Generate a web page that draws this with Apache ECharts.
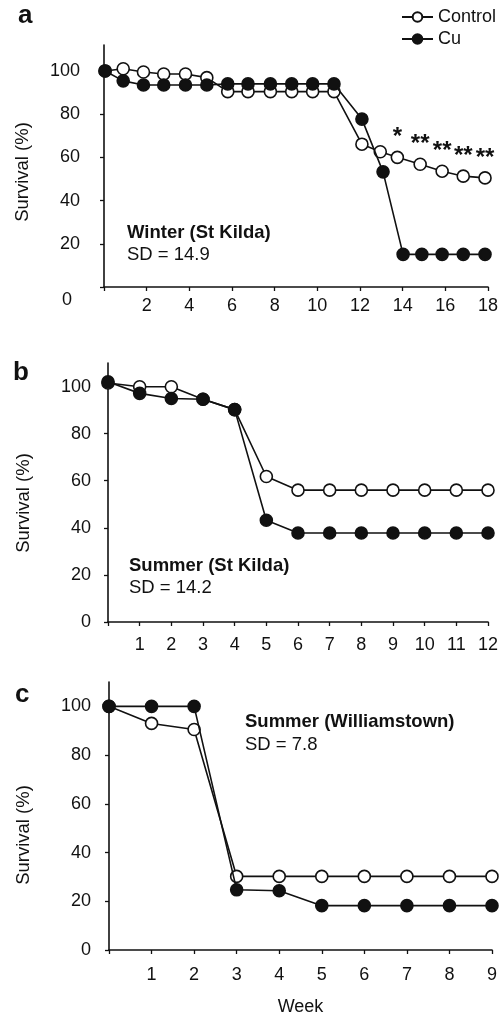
<!DOCTYPE html>
<html lang="en" style="height: 100%">
<head>
  <meta charset="UTF-8">
  <title>Survival by week</title>
  <script src="https://cdn.jsdelivr.net/npm/echarts@6/dist/echarts.min.js"></script>
</head>
<body style="height: 100%; margin: 0; background: #fff">
<div id="container" style="width: 502px; height: 1019px"></div>

<script type="text/javascript">
  // panel a - winter, St Kilda
  var weeksACtrl = [0.05, 0.9, 1.85, 2.8, 3.82, 4.82, 5.8, 6.75, 7.8, 8.8, 9.78, 10.78, 12.09, 12.95, 13.75, 14.82, 15.85, 16.84, 17.86];
  var weeksACu = [0.05, 0.9, 1.85, 2.8, 3.82, 4.82, 5.8, 6.75, 7.8, 8.8, 9.78, 10.78, 12.09, 13.08, 14.02, 14.9, 15.85, 16.84, 17.86];
  var controlA = [100, 101, 99.5, 98.6, 98.6, 96.9, 90.4, 90.4, 90.4, 90.4, 90.4, 90.4, 66.1, 62.6, 60, 56.8, 53.6, 51.3, 50.5];
  var cuA = [100, 95.4, 93.5, 93.5, 93.5, 93.5, 94, 94, 94, 94, 94, 94, 77.7, 53.3, 15.1, 15.1, 15.1, 15.1, 15.1];
  var sigA = ['', '', '', '', '', '', '', '', '', '', '', '', '', '', '*', '**', '**', '**', '**'];
  var weekTicksA = [2, 4, 6, 8, 10, 12, 14, 16, 18];

  // panel b - summer, St Kilda
  var weeksB = [0, 1, 2, 3, 4, 5, 6, 7, 8, 9, 10, 11, 12];
  var controlB = [101.5, 99.9, 99.9, 94.6, 90.2, 61.8, 56, 56, 56, 56, 56, 56, 56];
  var cuB = [102, 97.1, 94.9, 94.6, 90.2, 43.2, 37.8, 37.8, 37.8, 37.8, 37.8, 37.8, 37.8];
  var weekTicksB = [1, 2, 3, 4, 5, 6, 7, 8, 9, 10, 11, 12];

  // panel c - summer, Williamstown
  var weeksC = [0, 1, 2, 3, 4, 5, 6, 7, 8, 9];
  var controlC = [100, 93, 90.5, 30.2, 30.2, 30.2, 30.2, 30.2, 30.2, 30.2];
  var cuC = [100, 100, 100, 24.7, 24.3, 18.2, 18.2, 18.2, 18.2, 18.2];
  var weekTicksC = [1, 2, 3, 4, 5, 6, 7, 8, 9];

  var survivalTicks = [0, 20, 40, 60, 80, 100];

  var FONT = "'Liberation Sans', Arial, sans-serif";
  var INK = '#111';

  function pairs(xs, ys) {
    return xs.map(function (x, i) { return [x, ys[i]]; });
  }

  function xAxisFor(idx, max, ticks, margin) {
    return {
      type: 'value', gridIndex: idx, min: 0, max: max,
      axisLine: { lineStyle: { color: INK, width: 1.6 } },
      axisTick: { show: true, length: 4, lineStyle: { color: INK, width: 1.3 }, customValues: [0].concat(ticks) },
      axisLabel: { customValues: ticks, margin: margin, color: INK, fontSize: 18, fontFamily: FONT },
      splitLine: { show: false }
    };
  }

  function yAxisFor(idx, max, margin, zeroShift) {
    return {
      type: 'value', gridIndex: idx, min: 0, max: max,
      axisLine: { show: true, onZero: false, lineStyle: { color: INK, width: 1.6 } },
      axisTick: { show: true, length: 4, lineStyle: { color: INK, width: 1.3 }, customValues: survivalTicks },
      axisLabel: {
        customValues: survivalTicks, margin: margin, color: INK, fontSize: 18, fontFamily: FONT,
        formatter: function (v) { return (zeroShift && v === 0) ? '{z|0}' : String(v); },
        rich: { z: { fontSize: 18, fontFamily: FONT, color: INK, padding: [26, 8, 0, 0] } }
      },
      splitLine: { show: false }
    };
  }

  function lineSeries(name, idx, data, filled) {
    return {
      name: name, type: 'line', xAxisIndex: idx, yAxisIndex: idx,
      data: data, symbol: 'circle', symbolSize: 12, animation: false,
      lineStyle: { color: INK, width: 1.6 },
      itemStyle: { color: filled ? INK : '#fff', borderColor: INK, borderWidth: 1.6 },
      z: filled ? 3 : 2
    };
  }

  function txt(x, y, s, size, bold, rot) {
    return {
      type: 'text', x: x, y: y, rotation: rot || 0, silent: true,
      style: {
        text: s, fill: INK, font: (bold ? 'bold ' : '') + size + 'px ' + FONT,
        textAlign: rot ? 'center' : 'left', textVerticalAlign: 'middle'
      }
    };
  }

  var dom = document.getElementById('container');
  var myChart = echarts.init(dom, null, { renderer: 'canvas' });

  var ctrlASeries = lineSeries('Control', 0, pairs(weeksACtrl, controlA), false);
  ctrlASeries.label = {
    show: true, position: 'top', distance: 1, color: INK, fontSize: 24, fontWeight: 'bold', fontFamily: FONT,
    formatter: function (p) { return sigA[p.dataIndex]; }
  };

  var option = {
    backgroundColor: '#fff',
    animation: false,
    legend: {
      orient: 'vertical', left: 401, top: 8, padding: 0, itemGap: 4,
      itemWidth: 31, itemHeight: 12,
      textStyle: { color: INK, fontSize: 18, fontFamily: FONT },
      data: ['Control', 'Cu']
    },
    grid: [
      { left: 104, width: 384, top: 45, height: 242 },
      { left: 108, width: 380, top: 363, height: 259 },
      { left: 109, width: 383, top: 682, height: 268 }
    ],
    xAxis: [
      xAxisFor(0, 18, weekTicksA, 10),
      xAxisFor(1, 12, weekTicksB, 14),
      Object.assign(xAxisFor(2, 9, weekTicksC, 16), {
        name: 'Week', nameLocation: 'middle', nameGap: 48,
        nameTextStyle: { color: INK, fontSize: 18, fontFamily: FONT }
      })
    ],
    yAxis: [
      yAxisFor(0, 112, 24, true),
      yAxisFor(1, 110, 17, false),
      yAxisFor(2, 110, 18, false)
    ],
    series: [
      ctrlASeries,
      lineSeries('Cu', 0, pairs(weeksACu, cuA), true),
      lineSeries('Control', 1, pairs(weeksB, controlB), false),
      lineSeries('Cu', 1, pairs(weeksB, cuB), true),
      lineSeries('Control', 2, pairs(weeksC, controlC), false),
      lineSeries('Cu', 2, pairs(weeksC, cuC), true)
    ],
    graphic: [
      txt(18, 16, 'a', 26, true),
      txt(13, 373, 'b', 26, true),
      txt(15, 695, 'c', 26, true),
      txt(23, 172, 'Survival (%)', 18.5, false, Math.PI / 2),
      txt(24, 503, 'Survival (%)', 18.5, false, Math.PI / 2),
      txt(24, 835, 'Survival (%)', 18.5, false, Math.PI / 2),
      txt(127, 233, 'Winter (St Kilda)', 18.5, true),
      txt(127, 255, 'SD = 14.9', 18.5, false),
      txt(129, 566, 'Summer (St Kilda)', 18.5, true),
      txt(129, 588, 'SD = 14.2', 18.5, false),
      txt(245, 722, 'Summer (Williamstown)', 18.5, true),
      txt(245, 745, 'SD = 7.8', 18.5, false)
    ]
  };

  myChart.setOption(option);
  window.addEventListener('resize', myChart.resize);
</script>
</body>
</html>
